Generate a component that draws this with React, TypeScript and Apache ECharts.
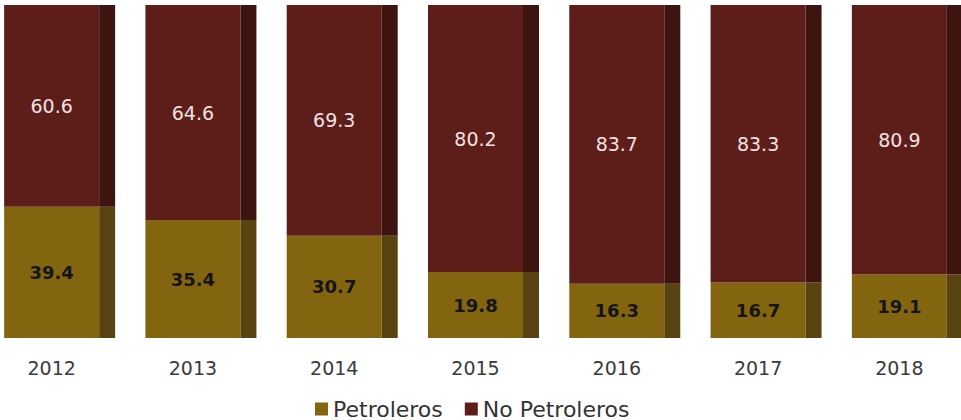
import React, { useEffect, useRef } from "react";
import * as echarts from "echarts";

const years = ["2012", "2013", "2014", "2015", "2016", "2017", "2018"];
const petroleros = [39.4, 35.4, 30.7, 19.8, 16.3, 16.7, 19.1];
const noPetroleros = [60.6, 64.6, 69.3, 80.2, 83.7, 83.3, 80.9];

const GOLD = "#836510";
const GOLD_SIDE = "#574410";
const MAROON = "#5D1E1A";
const MAROON_SIDE = "#3E1411";
const FONT = "DejaVu Sans";

// The reference crops the last bar: the plot is wider than the page and shifted left.
const SHIFT = 11;
const CHART_W = 989;

export default function App() {
  const ref = useRef<HTMLDivElement>(null);
  useEffect(() => {
    if (!ref.current) return;
    const chart = echarts.init(ref.current, null, { renderer: "svg" });
    chart.setOption({
      animation: false,
      backgroundColor: "#ffffff",
      grid: { left: 0, right: 0, top: 5, bottom: 82, containLabel: false },
      legend: {
        data: [
          { name: "Petroleros", itemStyle: { color: GOLD } },
          { name: "No Petroleros", itemStyle: { color: MAROON } },
        ],
        icon: "rect",
        itemWidth: 13,
        itemHeight: 13,
        itemGap: 22,
        padding: 0,
        top: 398,
        left: 315 + SHIFT,
        textStyle: { fontFamily: FONT, fontSize: 22, color: "#333333" },
        selectedMode: false,
      },
      xAxis: {
        type: "category",
        data: years,
        axisLine: { show: false },
        axisTick: { show: false },
        axisLabel: {
          margin: 20,
          fontFamily: FONT,
          fontSize: 19,
          color: "#3a3a3a",
          padding: [0, 16, 0, 0],
        },
      },
      yAxis: { type: "value", min: 0, max: 100, show: false, splitLine: { show: false } },
      series: [
        {
          name: "Petroleros",
          type: "bar",
          stack: "front",
          barWidth: 95,
          barGap: "0%",
          data: petroleros,
          itemStyle: { color: GOLD },
          label: {
            show: true,
            position: "inside",
            fontFamily: FONT,
            fontSize: 18,
            fontWeight: "bold",
            color: "#151515",
          },
        },
        {
          name: "No Petroleros",
          type: "bar",
          stack: "front",
          barWidth: 95,
          barGap: "0%",
          data: noPetroleros,
          itemStyle: { color: MAROON },
          label: {
            show: true,
            position: "inside",
            fontFamily: FONT,
            fontSize: 19,
            color: "#f3e2e2",
          },
        },
        {
          name: "Petroleros (lado)",
          type: "bar",
          stack: "side",
          barWidth: 16,
          barGap: "0%",
          data: petroleros,
          itemStyle: { color: GOLD_SIDE },
          silent: true,
        },
        {
          name: "No Petroleros (lado)",
          type: "bar",
          stack: "side",
          barWidth: 16,
          barGap: "0%",
          data: noPetroleros,
          itemStyle: { color: MAROON_SIDE },
          silent: true,
        },
      ],
    });
    return () => chart.dispose();
  }, []);
  return (
    <div style={{ position: "fixed", left: 0, top: 0, width: 961, height: 420, overflow: "hidden", background: "#fff" }}>
      <div
        ref={ref}
        style={{ position: "absolute", left: -SHIFT, top: 0, width: CHART_W, height: 420 }}
      />
    </div>
  );
}
